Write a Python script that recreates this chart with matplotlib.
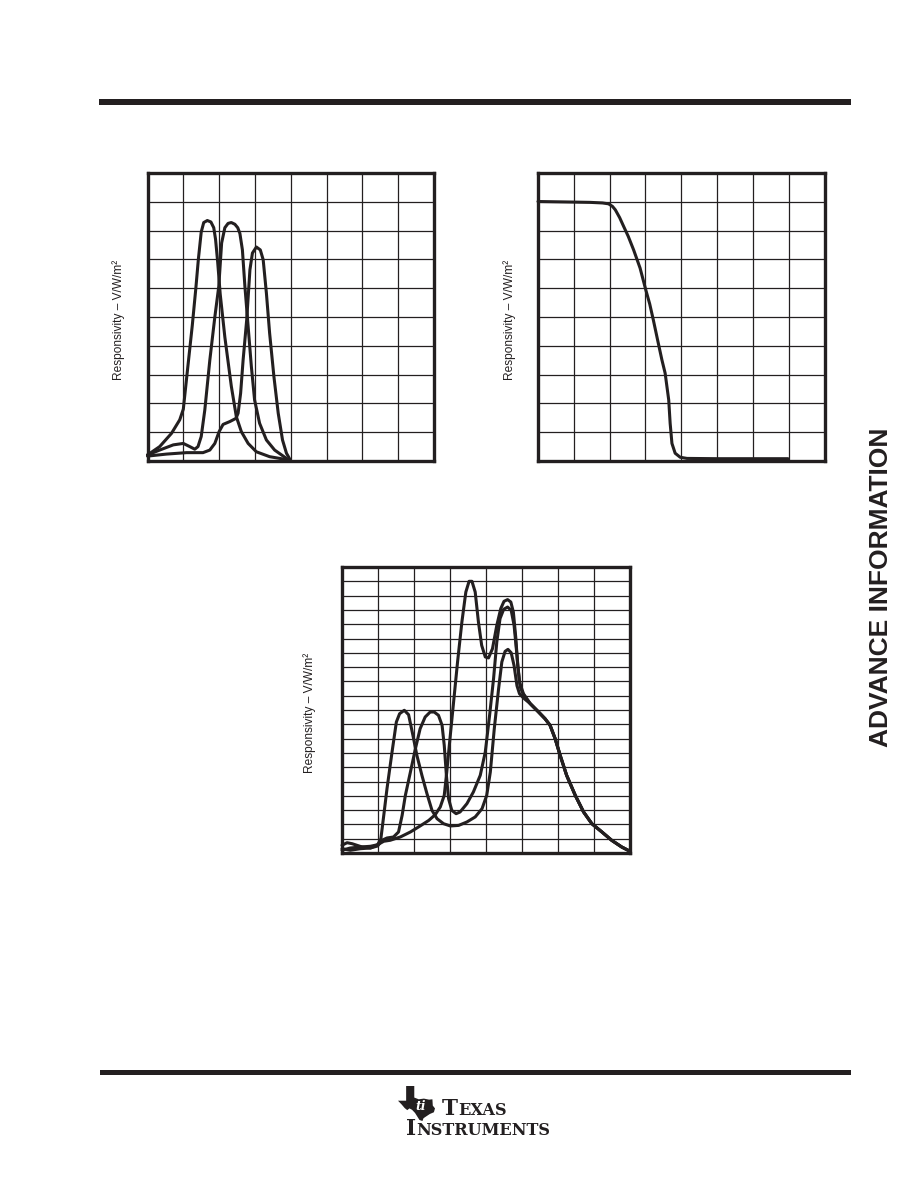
import matplotlib
matplotlib.use('Agg')
import matplotlib.pyplot as plt
import numpy as np
from matplotlib.patches import Rectangle, Polygon

plt.rcParams['font.family'] = ['Liberation Sans', 'DejaVu Sans']

# ── page geometry (pixels) ─────────────────────────────────
W, H = 918, 1188
INK = '#231f20'

# ── top-left chart: three narrow-band responsivity curves ──
tl_a_x = [0, 0.34, 0.67, 0.9, 1.0, 1.12, 1.25, 1.35, 1.42, 1.5, 1.57, 1.67, 1.77,
          1.85, 1.9, 1.96, 2.03, 2.16, 2.34, 2.48, 2.62, 2.81, 3.04, 3.41, 3.97]
tl_a_y = [0.21, 0.5, 0.96, 1.43, 1.8, 3.2, 4.7, 6.0, 7.0, 7.95, 8.28, 8.35, 8.3,
          8.1, 7.7, 6.9, 5.8, 4.3, 2.6, 1.54, 1.02, 0.61, 0.32, 0.15, 0.03]

tl_b_x = [0, 0.34, 0.72, 1.0, 1.18, 1.32, 1.41, 1.5, 1.6, 1.74, 1.88, 1.99, 2.07,
          2.16, 2.25, 2.34, 2.44, 2.52, 2.58, 2.65, 2.72, 2.81, 2.9, 2.99, 3.13,
          3.32, 3.55, 3.88]
tl_b_y = [0.21, 0.38, 0.56, 0.61, 0.5, 0.41, 0.5, 0.85, 1.77, 3.5, 5.0, 6.06, 7.57,
          8.1, 8.25, 8.28, 8.22, 8.1, 7.9, 7.33, 6.06, 4.67, 3.28, 2.12, 1.31,
          0.73, 0.38, 0.09]

tl_c_x = [0, 0.53, 1.09, 1.55, 1.74, 1.88, 2.0, 2.11, 2.3, 2.47, 2.53, 2.6, 2.67,
          2.77, 2.86, 2.93, 3.04, 3.15, 3.23, 3.32, 3.41, 3.53, 3.65, 3.77, 3.88, 3.99]
tl_c_y = [0.17, 0.24, 0.29, 0.29, 0.38, 0.61, 1.02, 1.27, 1.37, 1.48, 1.66, 2.35,
          3.51, 4.9, 6.64, 7.22, 7.43, 7.33, 6.99, 5.83, 4.44, 2.93, 1.66, 0.73,
          0.27, 0.03]

# ── top-right chart: one long-pass cut-off curve ──────────
tr_x = [0, 0.5, 1.0, 1.46, 1.8, 1.97, 2.08, 2.16, 2.28, 2.39, 2.52, 2.67, 2.85,
        3.01, 3.12, 3.22, 3.34, 3.46, 3.55, 3.65, 3.69, 3.74, 3.83, 3.97, 4.16,
        5.0, 6.0, 6.98]
tr_y = [9.01, 9.0, 8.99, 8.98, 8.96, 8.93, 8.84, 8.72, 8.45, 8.15, 7.8, 7.33, 6.7,
        5.94, 5.45, 4.9, 4.2, 3.51, 3.05, 2.12, 1.31, 0.61, 0.27, 0.13, 0.09,
        0.08, 0.08, 0.08]

# ── bottom chart: three broad curves sharing one tail ─────
tail_x = [5.23, 5.46, 5.64, 5.78, 5.92, 6.06, 6.24, 6.48, 6.71, 6.94, 7.22, 7.49,
          7.77, 8.0]
tail_y = [10.44, 9.86, 9.39, 8.93, 8.0, 6.83, 5.43, 4.03, 2.87, 2.05, 1.47, 0.89,
          0.42, 0.12]

bt_1_x = [0, 0.14, 0.28, 0.56, 0.79, 0.99, 1.08, 1.16, 1.25, 1.39, 1.51, 1.6, 1.73,
          1.85, 1.97, 2.08, 2.22, 2.36, 2.5, 2.64, 2.82, 3.01, 3.24, 3.47, 3.7,
          3.89, 4.02, 4.12, 4.23, 4.35, 4.44, 4.53, 4.61, 4.7, 4.78, 4.86, 4.93, 5.04]
bt_1_y = [0.54, 0.72, 0.65, 0.42, 0.35, 0.58, 1.0, 2.63, 4.5, 7.06, 9.16, 9.74, 9.98,
          9.67, 8.23, 6.83, 5.43, 4.15, 2.98, 2.4, 2.05, 1.89, 1.93, 2.17, 2.52,
          3.1, 4.03, 5.66, 8.69, 11.49, 13.36, 14.1, 14.24, 14.0, 13.1, 11.7, 11.14,
          10.84]

bt_2_x = [0, 0.23, 0.51, 0.79, 0.99, 1.11, 1.25, 1.43, 1.57, 1.67, 1.76, 1.9, 2.04,
          2.17, 2.31, 2.45, 2.56, 2.68, 2.78, 2.84, 2.9, 2.96, 3.05, 3.17, 3.28,
          3.47, 3.65, 3.84, 3.98, 4.1, 4.21, 4.3, 4.39, 4.49, 4.6, 4.7, 4.78, 4.86,
          4.93, 5.04]
bt_2_y = [0.3, 0.19, 0.3, 0.35, 0.49, 0.89, 1.05, 1.12, 1.47, 2.63, 4.03, 5.66, 7.3,
          8.69, 9.51, 9.86, 9.86, 9.63, 8.93, 7.53, 5.43, 3.8, 2.98, 2.75, 2.87,
          3.45, 4.27, 5.43, 7.06, 9.63, 12.19, 14.76, 16.39, 17.04, 17.2, 16.97,
          15.92, 13.82, 11.96, 11.14]

bt_3_x = [0, 0.23, 0.51, 0.79, 0.99, 1.16, 1.34, 1.62, 1.9, 2.17, 2.41, 2.59, 2.73,
          2.84, 2.91, 2.99, 3.1, 3.21, 3.33, 3.44, 3.53, 3.61, 3.7, 3.79, 3.88,
          3.98, 4.07, 4.18, 4.3, 4.41, 4.5, 4.6, 4.69, 4.76, 4.83, 4.88, 4.95, 5.04]
bt_3_y = [0.19, 0.35, 0.42, 0.47, 0.58, 0.82, 0.89, 1.12, 1.47, 1.89, 2.28, 2.68,
          3.22, 4.03, 5.66, 7.76, 10.56, 13.36, 16.15, 18.25, 19.0, 19.0, 18.25,
          16.15, 14.52, 13.71, 13.64, 14.29, 15.92, 17.09, 17.6, 17.72, 17.55,
          16.85, 14.99, 13.12, 11.61, 11.07]

YLABEL = 'Responsivity – V/W/m²'


def px_rect(x0, y0, x1, y1):
    """pixel box (top-left origin) -> figure fraction rect"""
    return [x0 / W, 1 - y1 / H, (x1 - x0) / W, (y1 - y0) / H]


def grid_axes(fig, rect, nx, ny, label_dx):
    ax = fig.add_axes(rect)
    ax.set_xlim(0, nx)
    ax.set_ylim(0, ny)
    ax.set_xticks(np.arange(nx + 1))
    ax.set_yticks(np.arange(ny + 1))
    ax.tick_params(length=0, labelbottom=False, labelleft=False)
    ax.grid(True, color=INK, linewidth=0.9)
    ax.set_axisbelow(True)
    for s in ax.spines.values():
        s.set_linewidth(2.4)
        s.set_color(INK)
    ax.text(label_dx, 0.49, YLABEL, transform=ax.transAxes, rotation=90,
            ha='center', va='center', fontsize=8.6, color=INK)
    return ax


def curve(ax, x, y):
    ax.plot(x, y, color=INK, linewidth=2.2, solid_joinstyle='round',
            solid_capstyle='round', clip_on=False, zorder=3)


fig = plt.figure(figsize=(W / 100, H / 100), dpi=100)
fig.patch.set_facecolor('white')

# page furniture
page = fig.add_axes([0, 0, 1, 1], zorder=-5)
page.set_xlim(0, W)
page.set_ylim(H, 0)
page.axis('off')
page.add_patch(Rectangle((99, 99), 752, 6, facecolor=INK, edgecolor='none'))
page.add_patch(Rectangle((100, 1070), 751, 5, facecolor=INK, edgecolor='none'))
page.text(881, 587, 'ADVANCE INFORMATION', rotation=90, ha='center', va='center',
          fontsize=19, fontweight='bold', color=INK)

# TI logo: state outline with "ti"
tx = [0.22, 0.44, 0.44, 0.56, 0.7, 0.84, 0.93, 0.94, 1.0, 0.97, 0.86, 0.76, 0.69,
      0.66, 0.58, 0.52, 0.46, 0.38, 0.31, 0.25, 0.18, 0.1, 0.0, 0.22]
ty = [0.0, 0.0, 0.33, 0.38, 0.36, 0.39, 0.38, 0.56, 0.64, 0.75, 0.8, 0.87, 0.92,
      1.0, 0.97, 0.87, 0.77, 0.68, 0.64, 0.69, 0.63, 0.53, 0.42, 0.42]
lx0, ly0, lw, lh = 398, 1086, 37, 35
page.add_patch(Polygon(np.c_[lx0 + np.array(tx) * lw, ly0 + np.array(ty) * lh],
                       closed=True, facecolor=INK, edgecolor='none'))
page.text(lx0 + 0.62 * lw, ly0 + 0.58 * lh, 'ti', ha='center', va='center',
          fontsize=9, fontweight='bold', style='italic', color='white',
          family='DejaVu Serif')

serif = 'DejaVu Serif'
t_big = page.text(442, 1115, 'T', fontsize=15.5, family=serif, color=INK,
                  fontweight='bold', ha='left', va='baseline')
i_big = page.text(406, 1135, 'I', fontsize=15.5, family=serif, color=INK,
                  fontweight='bold', ha='left', va='baseline')
fig.canvas.draw()
inv = page.transData.inverted()
t_right = inv.transform(t_big.get_window_extent().get_points())[1][0]
i_right = inv.transform(i_big.get_window_extent().get_points())[1][0]
page.text(t_right, 1115, 'EXAS', fontsize=11.6, family=serif, color=INK,
          fontweight='bold', ha='left', va='baseline')
page.text(i_right + 0.5, 1135, 'NSTRUMENTS', fontsize=11.6, family=serif,
          color=INK, fontweight='bold', ha='left', va='baseline')

# charts
ax1 = grid_axes(fig, px_rect(147.5, 173, 434, 461), 8, 10, -0.10)
curve(ax1, tl_a_x, tl_a_y)
curve(ax1, tl_b_x, tl_b_y)
curve(ax1, tl_c_x, tl_c_y)

ax2 = grid_axes(fig, px_rect(538, 173, 824.5, 461), 8, 10, -0.10)
curve(ax2, tr_x, tr_y)

ax3 = grid_axes(fig, px_rect(342, 567, 630, 853), 8, 20, -0.114)
curve(ax3, bt_1_x + tail_x, bt_1_y + tail_y)
curve(ax3, bt_2_x + tail_x, bt_2_y + tail_y)
curve(ax3, bt_3_x + tail_x, bt_3_y + tail_y)

fig.savefig('out.png', dpi=100)
